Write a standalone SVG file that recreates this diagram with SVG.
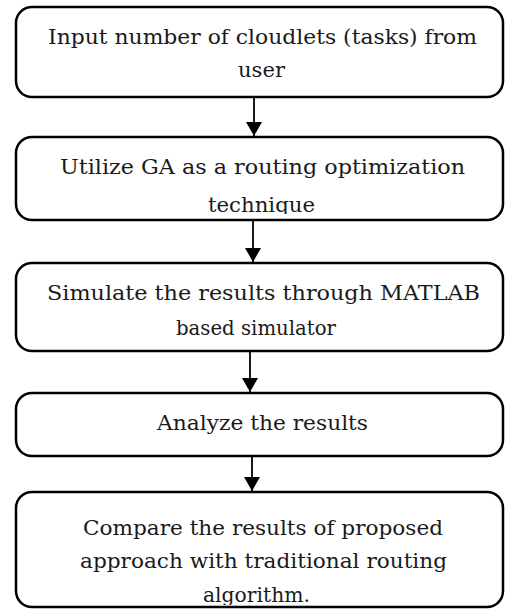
<svg xmlns="http://www.w3.org/2000/svg" width="506" height="609" viewBox="0 0 506 609">
<style>
.box{fill:#fff;stroke:#000;stroke-width:2.5}
.t{font-family:'DejaVu Serif','Liberation Serif',serif;font-size:21px;text-anchor:middle;fill:#1a1a1a}
.c{stroke:#000;stroke-width:1.8;fill:none}
</style>
<defs>
<marker id="ah" markerWidth="14" markerHeight="16" refX="14" refY="8" orient="auto" markerUnits="userSpaceOnUse" viewBox="0 0 14 16">
<path d="M0,0 L14,8 L0,16 Z" fill="#000"/>
</marker>
<clipPath id="clip2"><rect x="0" y="130" width="506" height="84"/></clipPath>
<clipPath id="clip5"><rect x="0" y="490" width="506" height="115"/></clipPath>
</defs>
<rect width="506" height="609" fill="#fff"/>
<g id="connectors">
<line class="c" x1="254" y1="97" x2="254" y2="136" marker-end="url(#ah)"/>
<line class="c" x1="253" y1="220" x2="253" y2="262" marker-end="url(#ah)"/>
<line class="c" x1="250" y1="351" x2="250" y2="392" marker-end="url(#ah)"/>
<line class="c" x1="252" y1="456" x2="252" y2="491" marker-end="url(#ah)"/>
</g>
<g id="n1">
<rect class="box" x="16" y="7" width="487" height="90" rx="16"/>
<text class="t" x="262.5" y="44" textLength="429" lengthAdjust="spacingAndGlyphs">Input number of cloudlets (tasks) from</text>
<text class="t" x="261.5" y="77" textLength="47" lengthAdjust="spacingAndGlyphs">user</text>
</g>
<g id="n2">
<rect class="box" x="16" y="137" width="487" height="83" rx="16"/>
<g clip-path="url(#clip2)">
<text class="t" x="262.5" y="174" textLength="405" lengthAdjust="spacingAndGlyphs">Utilize GA as a routing optimization</text>
<text class="t" x="261.5" y="212" textLength="107" lengthAdjust="spacingAndGlyphs">technique</text>
</g>
</g>
<g id="n3">
<rect class="box" x="16" y="263" width="487" height="88" rx="16"/>
<text class="t" x="263.5" y="300" textLength="433" lengthAdjust="spacingAndGlyphs">Simulate the results through MATLAB</text>
<text class="t" x="256" y="335" textLength="160" lengthAdjust="spacingAndGlyphs">based simulator</text>
</g>
<g id="n4">
<rect class="box" x="16" y="393" width="487" height="63" rx="16"/>
<text class="t" x="262.5" y="430" textLength="211" lengthAdjust="spacingAndGlyphs">Analyze the results</text>
</g>
<g id="n5">
<rect class="box" x="16" y="492" width="487" height="115" rx="16"/>
<g clip-path="url(#clip5)">
<text class="t" x="263" y="535" textLength="360" lengthAdjust="spacingAndGlyphs">Compare the results of proposed</text>
<text class="t" x="263.5" y="568" textLength="367" lengthAdjust="spacingAndGlyphs">approach with traditional routing</text>
<text class="t" x="256.5" y="602" textLength="107" lengthAdjust="spacingAndGlyphs">algorithm.</text>
</g>
</g>
</svg>
